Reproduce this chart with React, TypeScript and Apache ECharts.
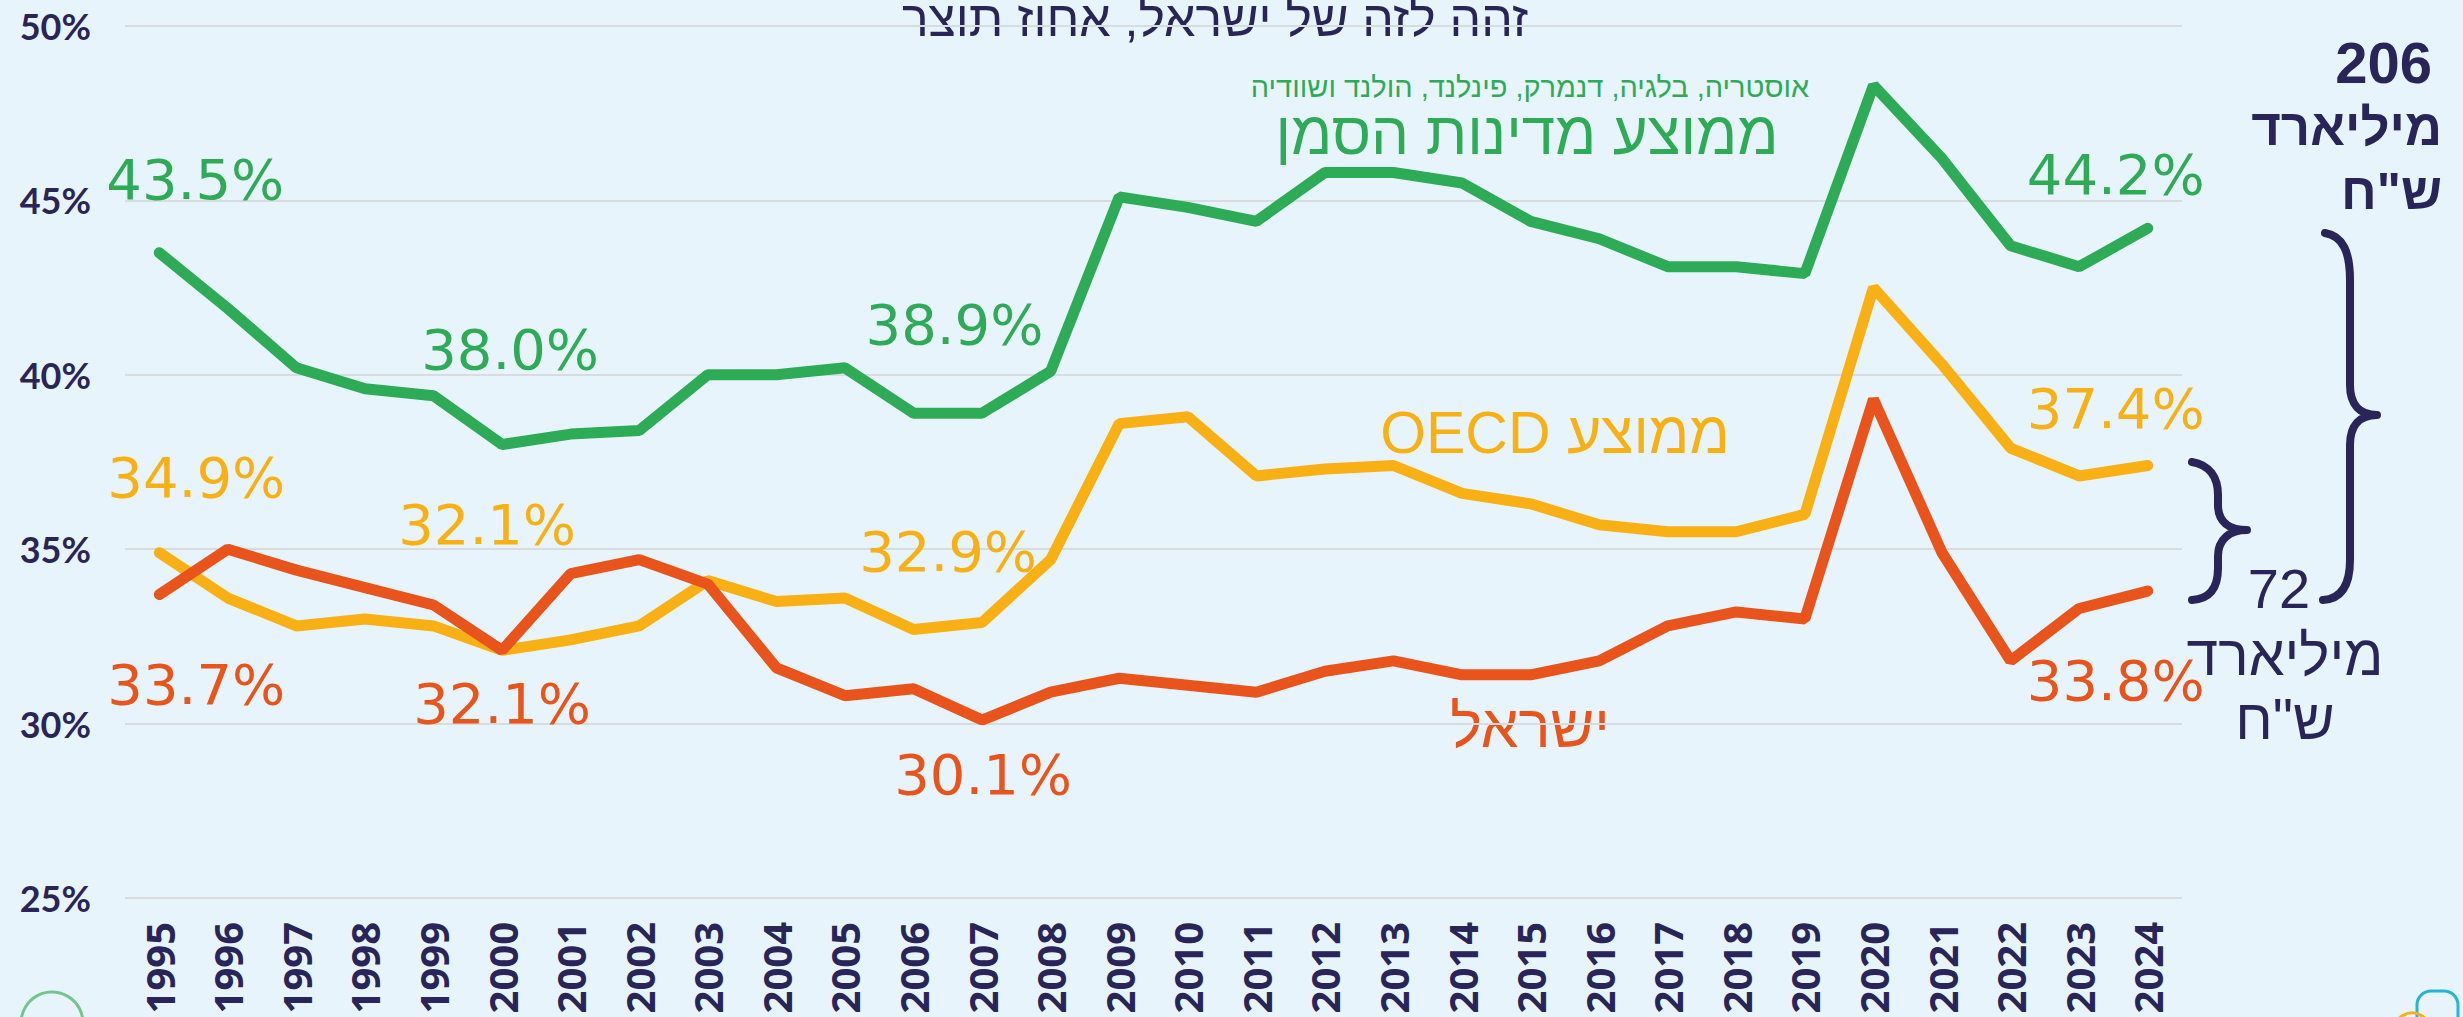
import React, { useEffect, useRef } from 'react';
import * as echarts from 'echarts';

// ---------- data ----------
const years = [
  '1995', '1996', '1997', '1998', '1999', '2000', '2001', '2002', '2003', '2004',
  '2005', '2006', '2007', '2008', '2009', '2010', '2011', '2012', '2013', '2014',
  '2015', '2016', '2017', '2018', '2019', '2020', '2021', '2022', '2023', '2024',
];
// ממוצע מדינות הסמן (green)
const benchmark = [
  43.5, 41.9, 40.2, 39.6, 39.4, 38.0, 38.3, 38.4, 40.0, 40.0,
  40.2, 38.9, 38.9, 40.1, 45.1, 44.8, 44.4, 45.8, 45.8, 45.5,
  44.4, 43.9, 43.1, 43.1, 42.9, 48.3, 46.2, 43.7, 43.1, 44.2,
];
// ממוצע OECD (yellow)
const oecd = [
  34.9, 33.6, 32.8, 33.0, 32.8, 32.1, 32.4, 32.8, 34.1, 33.5,
  33.6, 32.7, 32.9, 34.7, 38.6, 38.8, 37.1, 37.3, 37.4, 36.6,
  36.3, 35.7, 35.5, 35.5, 36.0, 42.5, 40.3, 37.9, 37.1, 37.4,
];
// ישראל (red)
const israel = [
  33.7, 35.0, 34.4, 33.9, 33.4, 32.1, 34.3, 34.7, 34.0, 31.6,
  30.8, 31.0, 30.1, 30.9, 31.3, 31.1, 30.9, 31.5, 31.8, 31.4,
  31.4, 31.8, 32.8, 33.2, 33.0, 39.3, 34.9, 31.8, 33.3, 33.8,
];
const yMin = 25;
const yMax = 50;
const yStep = 5;

// ---------- texts ----------
const titleText = 'זהה לזה של ישראל, אחוז תוצר';
const benchmarkCountries = 'אוסטריה, בלגיה, דנמרק, פינלנד, הולנד ושוודיה';
const benchmarkName = 'ממוצע מדינות הסמן';
const oecdName = 'OECD ממוצע';
const israelName = 'ישראל';
const gapBig = ['206', 'מיליארד', 'ש"ח'];
const gapSmall = ['72', 'מיליארד', 'ש"ח'];

// ---------- styling ----------
const BG = '#e8f4fb';
const NAVY = '#2a2558';
const GREEN = '#2eab57';
const YELLOW = '#f9b014';
const RED = '#e8541b';
const GRID = '#d9dcdf';
const LABEL_FONT = "'DejaVu Sans', sans-serif";
const HEB_FONT = "'Liberation Sans', 'DejaVu Sans', sans-serif";

// label offsets (px) keyed by data index
const greenLabels: Record<number, [number, number]> = { 0: [36, -73], 5: [8, -95], 11: [41, -89], 29: [-32, -54] };
const yellowLabels: Record<number, [number, number]> = { 0: [37, -75], 5: [-15, -126], 12: [-34, -71], 29: [-32, -57] };
const redLabels: Record<number, [number, number]> = { 0: [37, 90], 5: [0, 53], 12: [1, 54], 29: [-32, 89] };

const bigBracePath =
  'M2325 233 C2343 236 2350 252 2350 280 L2350 385 C2350 405 2360 415 2377 415 C2360 415 2350 425 2350 445 L2350 560 C2350 586 2341 599 2323 600';
const smallBracePath =
  'M2192 462 C2210 465 2218 478 2218 495 L2218 505 C2218 522 2229 530 2247 530 C2229 530 2218 540 2218 556 L2218 568 C2218 590 2208 599 2192 600';
echarts.graphic.registerShape('bigBrace', echarts.graphic.extendPath(bigBracePath, {}));
echarts.graphic.registerShape('smallBrace', echarts.graphic.extendPath(smallBracePath, {}));

function buildData(values: number[], labels: Record<number, [number, number]>) {
  return values.map((v, i) => {
    const off = labels[i];
    if (!off) return v;
    return { value: v, label: { show: true, position: 'inside', offset: off } };
  });
}

function lineSeries(name: string, values: number[], color: string, labels: Record<number, [number, number]>, z: number) {
  return {
    name,
    type: 'line',
    data: buildData(values, labels),
    symbol: 'circle',
    symbolSize: 2,
    showSymbol: true,
    showAllSymbol: true,
    z,
    itemStyle: { color },
    lineStyle: { color, width: 11, cap: 'round', join: 'bevel' },
    label: {
      show: false,
      color,
      fontSize: 56,
      fontFamily: LABEL_FONT,
      fontWeight: 'normal',
      formatter: (p: any) => `${Number(p.value).toFixed(1)}%`,
    },
    emphasis: { disabled: true },
  };
}

function txt(text: string, x: number, y: number, size: number, color: string, align = 'center', weight: string | number = 'normal') {
  return {
    type: 'text',
    x,
    y,
    style: {
      text,
      fill: color,
      fontSize: size,
      fontFamily: HEB_FONT,
      fontWeight: weight,
      align,
      verticalAlign: 'middle',
    },
  };
}

export default function App() {
  const ref = useRef<HTMLDivElement>(null);
  useEffect(() => {
    document.body.style.margin = '0';
    const chart = echarts.init(ref.current!, null, { renderer: 'svg' });
    chart.setOption({
      animation: false,
      backgroundColor: BG,
      grid: { left: 125, right: 281, top: 26, bottom: 119, containLabel: false },
      xAxis: {
        type: 'category',
        data: years,
        boundaryGap: true,
        axisLine: { show: false },
        axisTick: { show: false },
        axisLabel: {
          rotate: 90,
          margin: 24,
          color: NAVY,
          fontSize: 40,
          fontWeight: 'bold',
          fontFamily: "'Open Sans', sans-serif",
          interval: 0,
        },
        splitLine: { show: false },
      },
      yAxis: {
        type: 'value',
        min: yMin,
        max: yMax,
        interval: yStep,
        axisLine: { show: false },
        axisTick: { show: false },
        axisLabel: {
          formatter: '{value}%',
          margin: 34,
          color: NAVY,
          fontSize: 36,
          fontWeight: 'bold',
          fontFamily: "'Lato', sans-serif",
        },
        splitLine: { show: true, lineStyle: { color: GRID, width: 2 } },
      },
      series: [
        lineSeries('OECD', oecd, YELLOW, yellowLabels, 2),
        lineSeries('benchmark', benchmark, GREEN, greenLabels, 3),
        lineSeries('israel', israel, RED, redLabels, 4),
      ],
      graphic: [
        txt(titleText, 1215, 19, 50, NAVY),
        txt(benchmarkCountries, 1530, 87, 29, GREEN),
        txt(benchmarkName, 1527, 133, 60, GREEN),
        txt(oecdName, 1555, 433, 59, YELLOW),
        txt(israelName, 1530, 726, 60, RED),
        txt(gapBig[0], 2432, 62, 58, NAVY, 'right', 'bold'),
        txt(gapBig[1], 2442, 127, 51, NAVY, 'right', 'bold'),
        txt(gapBig[2], 2442, 191, 51, NAVY, 'right', 'bold'),
        txt(gapSmall[0], 2279, 588, 56, NAVY, 'center', 500),
        txt(gapSmall[1], 2285, 655, 57, NAVY, 'center', 500),
        txt(gapSmall[2], 2285, 719, 57, NAVY, 'center', 500),
        {
          type: 'bigBrace',
          x: 0,
          y: 0,
          style: { fill: 'none', stroke: NAVY, lineWidth: 8, lineCap: 'round', lineJoin: 'round' },
        },
        {
          type: 'smallBrace',
          x: 0,
          y: 0,
          style: { fill: 'none', stroke: NAVY, lineWidth: 8, lineCap: 'round', lineJoin: 'round' },
        },
        { type: 'circle', shape: { cx: 52, cy: 1023, r: 31 }, style: { fill: 'none', stroke: '#72c58f', lineWidth: 3 } },
        { type: 'rect', shape: { x: 2417, y: 991, width: 41, height: 60, r: 14 }, style: { fill: 'none', stroke: '#26b4d3', lineWidth: 3 } },
        { type: 'circle', shape: { cx: 2412, cy: 1031, r: 18 }, style: { fill: 'none', stroke: YELLOW, lineWidth: 3 } },
      ],
    });
    return () => chart.dispose();
  }, []);
  return <div ref={ref} style={{ position: 'absolute', left: 0, top: 0, width: 2463, height: 1017 }} />;
}
